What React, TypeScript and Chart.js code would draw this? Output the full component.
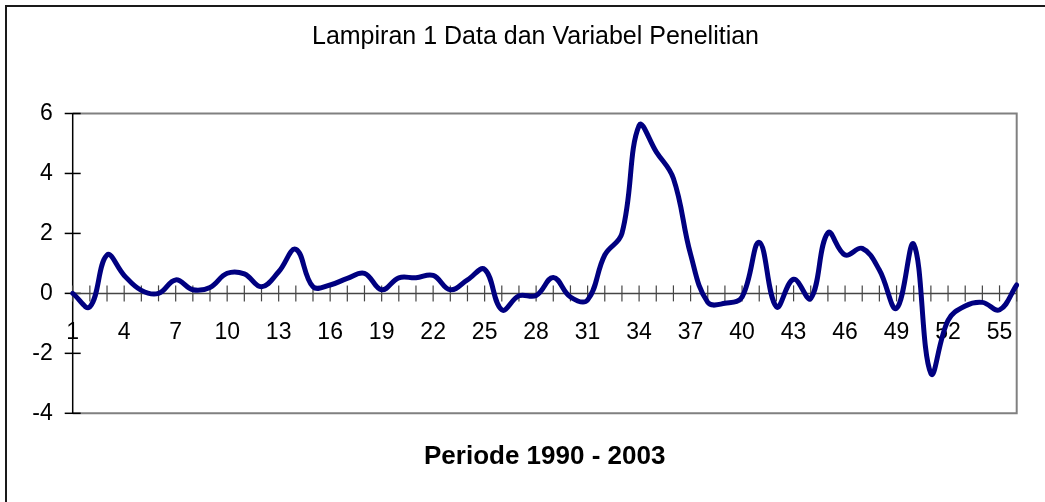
import React, { useEffect, useRef } from "react";
import { Chart, registerables } from "chart.js";

Chart.register(...registerables);

const categories: string[] = [
  "1", "2", "3", "4", "5", "6", "7", "8", "9", "10",
  "11", "12", "13", "14", "15", "16", "17", "18", "19", "20",
  "21", "22", "23", "24", "25", "26", "27", "28", "29", "30",
  "31", "32", "33", "34", "35", "36", "37", "38", "39", "40",
  "41", "42", "43", "44", "45", "46", "47", "48", "49", "50",
  "51", "52", "53", "54", "55", "56",
];

const shownTickLabels: string[] = [
  "1", "4", "7", "10", "13", "16", "19", "22", "25", "28",
  "31", "34", "37", "40", "43", "46", "49", "52", "55",
];

const seriesValues: number[] = [
  0, -0.45, 1.28, 0.6, 0.1, 0.0, 0.45, 0.12, 0.2, 0.67,
  0.65, 0.22, 0.72, 1.47, 0.22, 0.28, 0.5, 0.67, 0.12, 0.52,
  0.52, 0.6, 0.12, 0.45, 0.8, -0.55, -0.08, -0.07, 0.53, -0.12,
  -0.22, 1.28, 2.0, 5.6, 4.72, 3.83, 1.3, -0.3, -0.33, -0.12,
  1.7, -0.45, 0.47, -0.17, 2.02, 1.28, 1.5, 0.78, -0.5, 1.64,
  -2.67, -0.9, -0.42, -0.3, -0.55, 0.28,
];

const yMin = -4;
const yMax = 6;
const yStep = 2;

const titleText = "Lampiran 1 Data dan Variabel Penelitian";
const xAxisTitle = "Periode 1990 - 2003";

const FONT = "'Liberation Sans', Arial, Helvetica, sans-serif";

const excelAxes = {
  id: "excelAxes",
  beforeDatasetsDraw(chart: any) {
    const { ctx, chartArea, scales } = chart;
    const { left, right, top, bottom } = chartArea;
    const x = scales.x;
    const y = scales.y;
    const line = (x1: number, y1: number, x2: number, y2: number) => {
      ctx.beginPath();
      ctx.moveTo(x1, y1);
      ctx.lineTo(x2, y2);
      ctx.stroke();
    };
    ctx.save();
    ctx.strokeStyle = "#808080";
    ctx.lineWidth = 2;
    ctx.beginPath();
    ctx.moveTo(left, top);
    ctx.lineTo(right, top);
    ctx.lineTo(right, bottom);
    ctx.lineTo(left, bottom);
    ctx.stroke();
    ctx.strokeStyle = "#000000";
    ctx.lineWidth = 1.5;
    line(left, top, left, bottom);
    y.ticks.forEach((_t: any, i: number) => {
      const py = y.getPixelForTick(i);
      line(left - 8, py, left + 8, py);
    });
    const y0 = y.getPixelForValue(0);
    ctx.strokeStyle = "#454545";
    ctx.lineWidth = 1.5;
    line(left, y0, right, y0);
    ctx.lineWidth = 1.2;
    x.ticks.forEach((_t: any, i: number) => {
      const px = x.getPixelForTick(i);
      line(px, y0 - 8, px, y0 + 8);
    });
    ctx.restore();
  },
};

export default function App() {
  const canvasRef = useRef<HTMLCanvasElement | null>(null);

  useEffect(() => {
    const canvas = canvasRef.current;
    if (!canvas) return;
    const chart = new Chart(canvas, {
      type: "line",
      data: {
        labels: categories,
        datasets: [
          {
            data: seriesValues,
            borderColor: "#000080",
            backgroundColor: "#000080",
            borderWidth: 5,
            pointRadius: 0,
            tension: 0.4,
            borderCapStyle: "round",
            borderJoinStyle: "round",
            fill: false,
          },
        ],
      },
      options: {
        responsive: false,
        animation: false,
        layout: { padding: { left: 20, right: -6, top: 0, bottom: 30 } },
        plugins: {
          legend: { display: false },
          tooltip: { enabled: false },
          title: {
            display: true,
            text: titleText,
            color: "#000000",
            font: { family: FONT, size: 25, weight: "normal", lineHeight: 1.2 },
            padding: { top: 22, bottom: 61.5 },
          },
          subtitle: {
            display: true,
            text: xAxisTitle,
            position: "bottom",
            fullSize: false,
            color: "#000000",
            font: { family: FONT, size: 26, weight: "bold", lineHeight: 1.2 },
            padding: { top: 27.5, bottom: 0 },
          },
        },
        scales: {
          x: {
            type: "category",
            position: { y: 0 },
            offset: false,
            grid: { display: false, drawTicks: false },
            border: { display: false },
            ticks: {
              autoSkip: false,
              maxRotation: 0,
              minRotation: 0,
              padding: 25,
              color: "#000000",
              font: { family: FONT, size: 23 },
              callback: (_v: any, i: number) =>
                shownTickLabels.includes(categories[i]) ? categories[i] : "",
            },
          },
          y: {
            type: "linear",
            min: yMin,
            max: yMax,
            afterFit: (scale: any) => {
              scale.width = 52.7;
            },
            grid: { display: false, drawTicks: false },
            border: { display: false },
            ticks: {
              stepSize: yStep,
              autoSkip: false,
              padding: 20,
              color: "#000000",
              font: { family: FONT, size: 23 },
            },
          },
          yRight: {
            type: "linear",
            position: "right",
            display: true,
            min: yMin,
            max: yMax,
            afterFit: (scale: any) => {
              scale.width = 34.3;
            },
            grid: { display: false, drawTicks: false },
            border: { display: false },
            ticks: { display: false },
          },
        },
      },
      plugins: [excelAxes],
    });
    return () => chart.destroy();
  }, []);

  return (
    <div
      style={{
        position: "fixed",
        left: 0,
        top: 0,
        width: 1045,
        height: 502,
        overflow: "hidden",
        background: "#ffffff",
      }}
    >
      <div
        style={{
          position: "absolute",
          left: 5,
          top: 5,
          width: 1200,
          height: 700,
          border: "2px solid #1a1a1a",
          boxSizing: "border-box",
        }}
      />
      <canvas
        ref={canvasRef}
        width={1045}
        height={502}
        style={{ position: "absolute", left: 0, top: 0, display: "block" }}
      />
    </div>
  );
}
